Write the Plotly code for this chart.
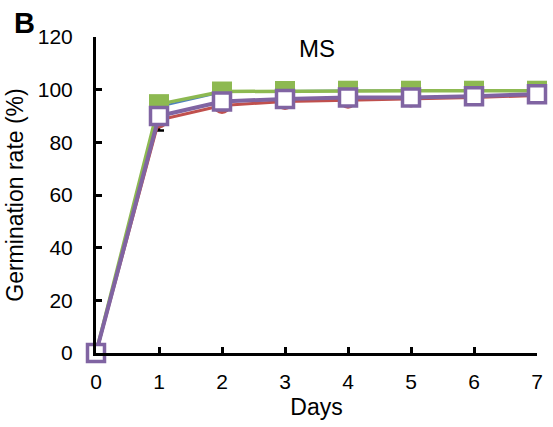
import plotly.graph_objects as go

days = [0, 1, 2, 3, 4, 5, 6, 7]
red_vals = [0, 88.5, 94, 95.5, 96, 96.5, 97, 97.8]
red_err = [0, 4, 0, 0, 0, 0, 0, 0]
blue_vals = [0, 93.5, 99, 99.5, 99.7, 99.7, 99.7, 99.7]
green_vals = [0, 94.5, 99.3, 99.5, 99.6, 99.6, 99.6, 99.6]
purple_vals = [0, 90, 95.5, 96.5, 97, 97, 97.5, 98.3]
y_ticks = [0, 20, 40, 60, 80, 100, 120]

fig = go.Figure()
fig.add_trace(go.Scatter(x=days, y=red_vals, mode="lines+markers",
                         line=dict(color="#C0504D", width=3),
                         marker=dict(symbol="circle", size=17, color="#C0504D"),
                         error_y=dict(type="data", array=[0]*8, arrayminus=red_err,
                                      symmetric=False, color="black", thickness=2.5, width=5),
                         cliponaxis=False))
fig.add_trace(go.Scatter(x=days, y=blue_vals, mode="lines+markers",
                         line=dict(color="#4F81BD", width=2),
                         marker=dict(symbol="square", size=15, color="#4F81BD"),
                         cliponaxis=False))
fig.add_trace(go.Scatter(x=days, y=green_vals, mode="lines+markers",
                         line=dict(color="#8DB951", width=3.5),
                         marker=dict(symbol="square", size=20, color="#8DB951"),
                         cliponaxis=False))
fig.add_trace(go.Scatter(x=days, y=purple_vals, mode="lines+markers",
                         line=dict(color="#8064A2", width=4),
                         marker=dict(symbol="square", size=17, color="white",
                                     line=dict(color="#8064A2", width=3.5)),
                         cliponaxis=False))

fig.update_layout(
    width=553, height=427,
    margin=dict(l=96, r=10, t=37, b=74),
    paper_bgcolor="white", plot_bgcolor="white",
    showlegend=False,
    font=dict(family="Liberation Sans, Arial, sans-serif", size=21, color="black"),
    xaxis=dict(range=[0, 7], tickvals=days, showline=True, linecolor="black", linewidth=3,
               ticks="inside", ticklen=6, tickwidth=2.5, tickcolor="black",
               showgrid=False, zeroline=False, ticklabelstandoff=8,
               title=dict(text="Days", font=dict(size=23), standoff=7),
               tickfont=dict(size=21)),
    yaxis=dict(range=[0, 120], tickvals=y_ticks, showline=True, linecolor="black", linewidth=3,
               ticks="inside", ticklen=6, tickwidth=2.5, tickcolor="black",
               showgrid=False, zeroline=False, ticklabelstandoff=16,
               title=dict(text="Germination rate (%)", font=dict(size=23), standoff=8),
               tickfont=dict(size=21)),
    annotations=[
        dict(text="<b>B</b>", x=-0.19, y=1.045, xref="paper", yref="paper", showarrow=False,
             xanchor="left", yanchor="middle", font=dict(size=29)),
        dict(text="MS", x=3.5, y=115.5, xref="x", yref="y", showarrow=False,
             xanchor="center", yanchor="middle", font=dict(size=24)),
    ],
)

fig.write_html("out.html")
